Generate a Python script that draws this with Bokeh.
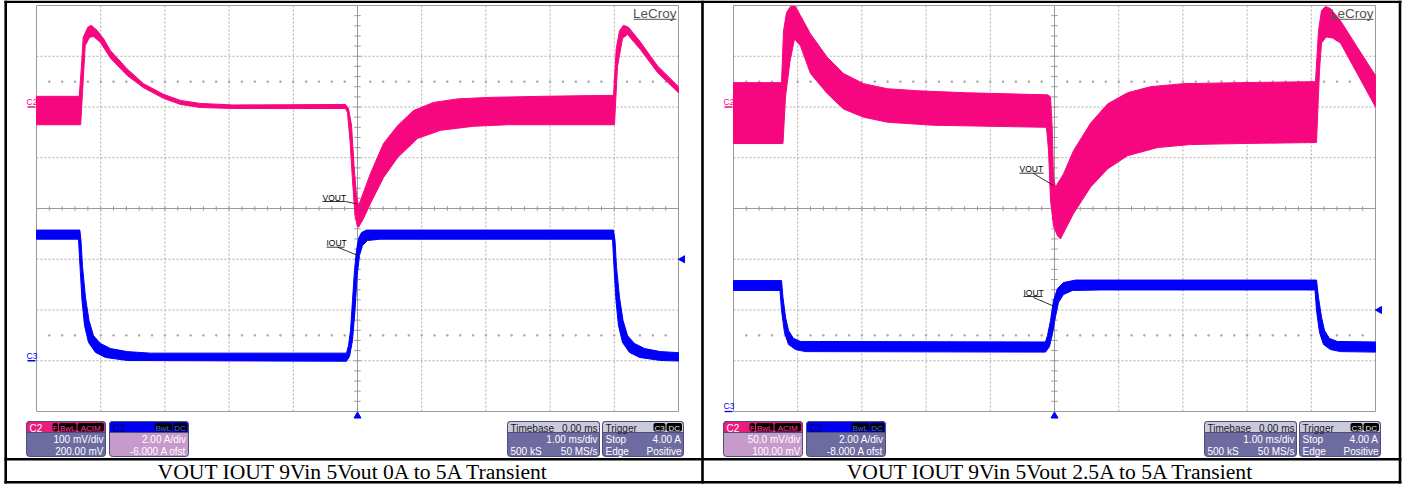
from math import pi
from bokeh.plotting import figure
from bokeh.models import Range1d, BoxAnnotation
from bokeh.core.properties import value
from bokeh.embed import file_html
from bokeh.resources import INLINE

W, H = 1405, 484

# ---------------- acquisition settings of the two screens ----------------
TIME_PER_DIV = 1.0                 # ms/div
VOUT_PER_DIV = [100.0, 50.0]       # mV/div (C2)
VOUT_OFFSET = [200.0, 100.0]       # mV
IOUT_PER_DIV = [2.0, 2.0]          # A/div (C3)
IOUT_OFFSET = [-6.0, -8.0]         # A
TRIG_LEVEL_A = 4.0                 # A

CAPTIONS = ["VOUT IOUT 9Vin 5Vout 0A to 5A Transient",
            "VOUT IOUT 9Vin 5Vout 2.5A to 5A Transient"]
C2_INFO = [("100 mV/div", "200.00 mV"), ("50.0 mV/div", "100.00 mV")]
C3_INFO = [("2.00 A/div", "-6.000 A ofst"), ("2.00 A/div", "-8.000 A ofst")]
TIMEBASE_INFO = ("Timebase", "0.00 ms", "1.00 ms/div", "500 kS", "50 MS/s")
TRIGGER_INFO = ("Trigger", "Stop", "4.00 A", "Edge", "Positive")

# ---------------- traces: upper / lower edge of each noisy band ----------------
# screen 1 : 0 A <-> 5 A load step
vout1_hi_t = [-5.0, -4.335, -4.30, -4.273, -4.201, -4.148, -4.056, -3.953, -3.847, -3.587,
              -3.333, -3.022, -2.757, -2.445, -1.931, -0.187, -0.140, -0.093, -0.054, -0.016,
              0.016, 0.047, 0.202, 0.405, 0.623, 0.872, 1.184, 1.558, 2.072, 2.850,
              3.972, 3.988, 4.030, 4.081, 4.143, 4.221, 4.300, 4.408, 4.673, 5.0]
vout1_hi = [21, 21, 80, 137, 157, 161, 151, 134, 111, 75,
            46, 25, 13, 7, 4, 5, -3, -36, -115, -174,
            -194, -184, -131, -72, -37, -7, 9, 16, 19, 21,
            23, 23, 115, 150, 161, 157, 145, 128, 81, 40]
vout1_lo_t = [-5.0, -4.312, -4.241, -4.174, -4.112, -4.003, -3.847, -3.587, -3.333, -3.022,
              -2.757, -2.445, -1.931, -0.187, -0.156, -0.117, -0.078, -0.039, -0.005, 0.016,
              0.093, 0.202, 0.405, 0.623, 0.935, 1.293, 1.807, 2.336, 3.972, 4.003,
              4.050, 4.128, 4.206, 4.408, 4.673, 5.0]
vout1_lo = [-35, -35, 121, 137, 139, 127, 96, 62, 38, 17,
            5, -1, -3, -3, -11, -66, -145, -214, -234, -237,
            -220, -190, -139, -100, -62, -46, -38, -35, -35, -35,
            80, 135, 143, 113, 68, 28]

iout1_hi_t = [-5.0, -4.325, -4.307, -4.283, -4.237, -4.182, -4.112, -4.003, -3.847, -3.587,
              -3.224, -0.171, -0.140, -0.109, -0.078, -0.047, -0.016, 0.016, 0.062, 0.140,
              3.988, 4.011, 4.034, 4.081, 4.136, 4.206, 4.315, 4.471, 4.720, 5.0]
iout1_hi = [5.15, 5.15, 4.74, 3.71, 2.49, 1.59, 0.99, 0.68, 0.48, 0.36,
            0.30, 0.30, 0.60, 1.19, 2.37, 3.56, 4.34, 4.82, 5.05, 5.15,
            5.15, 4.74, 3.71, 2.49, 1.59, 0.99, 0.68, 0.48, 0.36, 0.32]
iout1_lo_t = [-5.0, -4.346, -4.322, -4.291, -4.252, -4.190, -4.081, -3.925, -3.587, -0.171,
              -0.124, -0.078, -0.039, -0.005, 0.031, 0.078, 0.156, 0.358, 3.972, 3.995,
              4.026, 4.065, 4.128, 4.237, 4.393, 4.720, 5.0]
iout1_lo = [4.79, 4.79, 3.71, 2.37, 1.39, 0.72, 0.33, 0.13, 0.01, -0.02,
            0.17, 0.80, 1.98, 3.36, 4.15, 4.54, 4.74, 4.79, 4.79, 3.71,
            2.37, 1.39, 0.72, 0.33, 0.13, 0.01, -0.01]

# screen 2 : 2.5 A <-> 5 A load step
vout2_hi_t = [-5.0, -4.252, -4.221, -4.174, -4.112, -4.034, -3.956, -3.801, -3.540, -3.287,
              -2.975, -2.601, -2.134, -1.355, -0.109, -0.062, -0.036, -0.016, 0.016, 0.062,
              0.140, 0.296, 0.561, 0.826, 1.137, 1.495, 2.009, 2.897, 4.065, 4.112,
              4.159, 4.221, 4.299, 4.455, 4.715, 5.0]
vout2_hi = [24, 24, 75, 93, 99, 99, 90, 72, 49, 33,
            23, 18, 16, 14, 12, 10, -20, -69, -79, -74,
            -66, -43, -16, 3, 14, 20, 23, 24, 25, 75,
            95, 99, 97, 85, 59, 31]
vout2_lo_t = [-5.0, -4.229, -4.190, -4.120, -4.050, -3.956, -3.801, -3.536, -3.287, -2.975,
              -2.601, -1.885, -0.125, -0.093, -0.062, -0.016, 0.047, 0.093, 0.296, 0.561,
              0.826, 1.137, 1.604, 2.118, 2.897, 4.081, 4.128, 4.159, 4.232, 4.330,
              4.455, 4.715, 5.0]
vout2_lo = [-36, -36, 10, 45, 67, 60, 33, 13, -2, -10,
            -15, -18, -20, -43, -92, -117, -127, -130, -105, -79,
            -61, -48, -40, -37, -36, -35, 36, 63, 69, 68,
            63, 33, 0]

iout2_hi_t = [-5.0, -4.252, -4.229, -4.190, -4.143, -4.065, -3.956, -0.140, -0.109, -0.062,
              -0.016, 0.047, 0.140, 0.327, 4.081, 4.112, 4.159, 4.206, 4.283, 4.408, 5.0]
iout2_hi = [5.16, 5.16, 4.49, 3.72, 3.19, 2.88, 2.76, 2.74, 3.00, 3.59,
            4.37, 4.85, 5.08, 5.18, 5.18, 4.49, 3.72, 3.19, 2.88, 2.76, 2.74]
iout2_lo_t = [-5.0, -4.276, -4.252, -4.206, -4.143, -4.034, -3.879, -0.140, -0.078, -0.031,
              0.016, 0.062, 0.140, 0.280, 0.717, 4.058, 4.081, 4.128, 4.190, 4.299,
              4.455, 5.0]
iout2_lo = [4.77, 4.77, 3.98, 3.11, 2.64, 2.44, 2.36, 2.34, 2.56, 3.07,
            3.74, 4.30, 4.61, 4.77, 4.79, 4.79, 3.98, 3.11, 2.64, 2.44,
            2.36, 2.34]

VOUT_BANDS = [(vout1_hi_t, vout1_hi, vout1_lo_t, vout1_lo),
              (vout2_hi_t, vout2_hi, vout2_lo_t, vout2_lo)]
IOUT_BANDS = [(iout1_hi_t, iout1_hi, iout1_lo_t, iout1_lo),
              (iout2_hi_t, iout2_hi, iout2_lo_t, iout2_lo)]

# ---------------- page geometry (pixels) ----------------
GRID_X = [36, 733]        # left edge of each graticule
DIV_W, DIV_H = 64.2, 50.75
CENTER_Y = 208            # graticule centre line, from the top
CY = H - CENTER_Y
BASE_SHIFT = 0.26         # svg text sits this many em below the requested baseline

PINK = "#F7077F"
BLUE = "#0000FA"
GRID_C = "#ABABAB"
FRAME_C = "#9A9A9A"
PURPLE = "#6E6BA0"
LILAC = "#C69ACA"
SANS = "Liberation Sans"
SERIF = "Liberation Serif"


def img(y):
    """top-based pixel row -> figure y"""
    return H - y


x_ranges = {}
y_ranges = {"d": Range1d(-CY / DIV_H, (H - CY) / DIV_H)}
for s in range(2):
    t0 = (-5 - GRID_X[s] / DIV_W) * TIME_PER_DIV
    x_ranges[f"t{s}"] = Range1d(t0, t0 + W / DIV_W * TIME_PER_DIV)
    vc = -VOUT_OFFSET[s]
    y_ranges[f"v{s}"] = Range1d(vc - CY / DIV_H * VOUT_PER_DIV[s],
                                vc + (H - CY) / DIV_H * VOUT_PER_DIV[s])
    ic = -IOUT_OFFSET[s]
    y_ranges[f"i{s}"] = Range1d(ic - CY / DIV_H * IOUT_PER_DIV[s],
                                ic + (H - CY) / DIV_H * IOUT_PER_DIV[s])

p = figure(width=W, height=H, x_range=Range1d(0, W), y_range=Range1d(0, H),
           output_backend="svg", toolbar_location=None,
           x_axis_location=None, y_axis_location=None, min_border=0)
p.extra_x_ranges = x_ranges
p.extra_y_ranges = y_ranges
p.xgrid.visible = False
p.ygrid.visible = False
p.outline_line_color = None
p.background_fill_color = "white"
p.border_fill_color = "white"


def txt(x, y_top, s, size, color="black", align="left", font=SANS):
    """text whose baseline sits on pixel row y_top (counted from the top)"""
    p.text(x=[x], y=[img(y_top - BASE_SHIFT * size)], text=[s], text_font=value(font),
           text_font_size=f"{size}px", text_color=color, text_align=align,
           text_baseline="alphabetic", text_line_height=1.0)


def box(left, right, top, bottom, fill, radius=3, line="#4E4B7E"):
    p.add_layout(BoxAnnotation(left=left, right=right, top=img(top), bottom=img(bottom),
                               fill_color=fill, fill_alpha=1.0, line_color=line,
                               line_alpha=1.0 if line else 0, line_width=1,
                               border_radius=radius, level="underlay"))


def badge(left, right, label, color):
    box(left, right, 422.5, 431, "black", radius=2, line=None)
    txt((left + right) / 2, 429.6, label, 8, color=color, align="center")


for s in range(2):
    gx = GRID_X[s]
    gr = gx + 10 * DIV_W
    tr, vr, ir = f"t{s}", f"v{s}", f"i{s}"

    # ---- graticule ----
    vlines = [-4, -3, -2, -1, 1, 2, 3, 4]
    p.segment(x0=vlines, y0=[-4] * 8, x1=vlines, y1=[4] * 8, line_color=GRID_C,
              line_dash="2 2", line_width=1, x_range_name=tr, y_range_name="d")
    hlines = [-3, -2, -1, 1, 2, 3]
    p.segment(x0=[-5] * 6, y0=hlines, x1=[5] * 6, y1=hlines, line_color=GRID_C,
              line_dash="2 2", line_width=1, x_range_name=tr, y_range_name="d")
    p.segment(x0=[-5, 0], y0=[0, -4], x1=[5, 0], y1=[0, 4], line_color=FRAME_C,
              line_width=1, x_range_name=tr, y_range_name="d")
    p.quad(left=[-5], right=[5], bottom=[-4], top=[4], fill_color=None,
           line_color=FRAME_C, line_width=1, x_range_name=tr, y_range_name="d")
    ht = [-5 + 0.2 * k for k in range(1, 50) if k != 25]
    p.segment(x0=ht, y0=[-0.045] * len(ht), x1=ht, y1=[0.045] * len(ht),
              line_color=FRAME_C, x_range_name=tr, y_range_name="d")
    vt = [-4 + 0.2 * k for k in range(1, 40) if k != 20]
    p.segment(x0=[-0.05] * len(vt), y0=vt, x1=[0.05] * len(vt), y1=vt,
              line_color=FRAME_C, x_range_name=tr, y_range_name="d")
    for yd in (2.5, -2.5):
        p.scatter(x=ht, y=[yd] * len(ht), marker="square", size=1.4, color=GRID_C,
                  x_range_name=tr, y_range_name="d")

    # ---- traces ----
    for (ht_, hv, lt_, lv), color, yr in ((VOUT_BANDS[s], PINK, vr), (IOUT_BANDS[s], BLUE, ir)):
        xs = list(ht_) + list(lt_)[::-1]
        ys = list(hv) + list(lv)[::-1]
        p.patch(xs, ys, fill_color=color, line_color=color, line_width=1,
                x_range_name=tr, y_range_name=yr)

    # ---- channel ground markers (zero level of each channel) ----
    v_zero_px = CENTER_Y - VOUT_OFFSET[s] / VOUT_PER_DIV[s] * DIV_H
    i_zero_px = CENTER_Y - IOUT_OFFSET[s] / IOUT_PER_DIV[s] * DIV_H
    p.segment(x0=[gx - 9], y0=[0], x1=[gx - 1], y1=[0], line_color=PINK, line_width=1.3,
              y_range_name=vr)
    txt(gx - 10, v_zero_px - 3, "C2", 8.5, PINK)
    p.segment(x0=[gx - 9], y0=[0], x1=[gx - 1], y1=[0], line_color=BLUE, line_width=1.3,
              y_range_name=ir)
    txt(gx - 10, i_zero_px - 3, "C3", 8.5, BLUE)

    # ---- trigger markers ----
    p.scatter(x=[gr + 4], y=[TRIG_LEVEL_A], marker="triangle", angle=pi / 2, size=7,
              color=BLUE, y_range_name=ir)
    p.scatter(x=[0], y=[img(415.5)], marker="triangle", size=7, color=BLUE, x_range_name=tr)

    # ---- brand ----
    txt(gr - 2, 16.5, "LeCroy", 13.5, "#555555", align="right")
    p.segment(x0=[gr - 45], y0=[img(18.8)], x1=[gr - 2], y1=[img(18.8)],
              line_color="#555555", line_width=1)

    # ---- trace labels with leaders ----
    lab = [((286, 199.5), (286, 309, 201), (309, 201, 321, 203.5)),
           ((290, 245), (290, 308, 246.7), (301, 246.7, 321.5, 255))] if s == 0 else \
          [((286, 171), (286, 310, 172.7), (300, 173, 320, 185)),
           ((290, 294.5), (290, 309, 296), (300, 297, 321, 306))]
    for name, (tp, ul, ld) in zip(("VOUT", "IOUT"), lab):
        txt(gx + tp[0], tp[1], name, 8.5)
        p.segment(x0=[gx + ul[0]], y0=[img(ul[2])], x1=[gx + ul[1]], y1=[img(ul[2])],
                  line_color="black", line_width=0.8)
        p.segment(x0=[gx + ld[0]], y0=[img(ld[1])], x1=[gx + ld[2]], y1=[img(ld[3])],
                  line_color="black", line_width=0.8)

    # ---- channel info boxes ----
    top, hdr, bot = 421, 432, 456
    r1, r2, r3 = 430.5, 442, 453.3
    c2_body = PURPLE if s == 0 else LILAC
    c3_body = LILAC if s == 0 else PURPLE
    L, R = gx - 10, gx + 69
    box(L, R, top, bot, c2_body)
    box(L, R, top, hdr, "#EC1C7C", radius=(3, 3, 0, 0))
    txt(L + 3, r1, "C2", 10, "white")
    badge(L + 26, L + 31.5, "F", "#FF3C9A")
    badge(L + 32.5, L + 50, "BwL", "#FF3C9A")
    badge(L + 51, R - 1.5, "ACIM", "#FF3C9A")
    txt(R - 2, r2, C2_INFO[s][0], 10, "white", align="right")
    txt(R - 2, r3, C2_INFO[s][1], 10, "white", align="right")

    L, R = gx + 73, gx + 152
    box(L, R, top, bot, c3_body)
    box(L, R, top, hdr, "#0000F0", radius=(3, 3, 0, 0))
    txt(L + 3, r1, "C3", 10, "#000060")
    badge(R - 34, R - 16.5, "BwL", "#4060FF")
    badge(R - 15.5, R - 1.5, "DC", "#4060FF")
    txt(R - 2, r2, C3_INFO[s][0], 10, "white", align="right")
    txt(R - 2, r3, C3_INFO[s][1], 10, "white", align="right")

    # ---- timebase / trigger boxes ----
    L, R = gx + 471, gx + 563
    box(L, R, top, bot, PURPLE)
    box(L, R, top, hdr, "#CBCAD8", radius=(3, 3, 0, 0))
    tb = TIMEBASE_INFO
    txt(L + 3, r1, tb[0], 10, "#1A1A2A")
    txt(R - 2, r1, tb[1], 10, "#1A1A2A", align="right")
    txt(R - 2, r2, tb[2], 10, "white", align="right")
    txt(L + 3, r3, tb[3], 10, "white")
    txt(R - 2, r3, tb[4], 10, "white", align="right")

    L, R = gx + 566, gx + 647
    box(L, R, top, bot, PURPLE)
    box(L, R, top, hdr, "#CBCAD8", radius=(3, 3, 0, 0))
    tg = TRIGGER_INFO
    txt(L + 3, r1, tg[0], 10, "#1A1A2A")
    badge(R - 30, R - 18, "C3", "#E8E8E8")
    badge(R - 17, R - 1.5, "DC", "#E8E8E8")
    txt(L + 3, r2, tg[1], 10, "white")
    txt(R - 2, r2, tg[2], 10, "white", align="right")
    txt(L + 3, r3, tg[3], 10, "white")
    txt(R - 2, r3, tg[4], 10, "white", align="right")

# ---- table frame and captions ----
BORDER_X = [5.2, 702, 1399.5]
p.segment(x0=BORDER_X, y0=[img(0)] * 3, x1=BORDER_X, y1=[img(483)] * 3,
          line_color="black", line_width=2.6)
ROW_Y = [1.3, 458.7, 481.7]
p.segment(x0=[4] * 3, y0=[img(y) for y in ROW_Y], x1=[1401] * 3, y1=[img(y) for y in ROW_Y],
          line_color="black", line_width=2.6)
for s, cx in enumerate((353.5, 1050.7)):
    txt(cx, 476.7, CAPTIONS[s], 21.6, "black", align="center", font=SERIF)

open("out.html", "w").write(file_html(p, INLINE))
